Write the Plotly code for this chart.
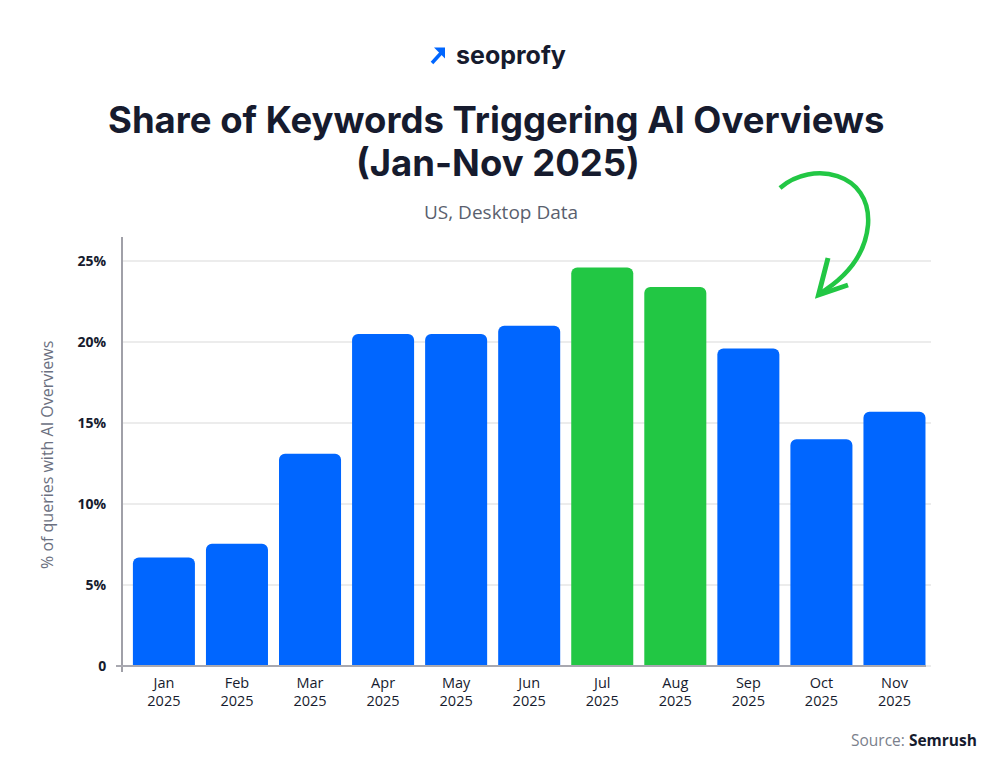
import plotly.graph_objects as go

months = ["Jan", "Feb", "Mar", "Apr", "May", "Jun", "Jul", "Aug", "Sep", "Oct", "Nov"]
years = ["2025"] * 11
share = [6.7, 7.55, 13.1, 20.5, 20.5, 21.0, 24.6, 23.4, 19.6, 14.0, 15.7]
highlight = [False, False, False, False, False, False, True, True, False, False, False]
y_ticks = [0, 5, 10, 15, 20, 25]
y_tick_labels = ["0", "5%", "10%", "15%", "20%", "25%"]

BLUE = "#0066FF"
GREEN = "#22C744"
DARK = "#161B2E"
GRAY = "#5A5F6E"
BODY = "Open Sans"

W, H = 1000, 768
L, R, T, B = 123, 931, 237, 672


def px(x):
    return (x - L) / (R - L)


def py(y):
    return (B - y) / (B - T)


labels = [f"{m}<br>{y}" for m, y in zip(months, years)]
colors = [GREEN if h else BLUE for h in highlight]

fig = go.Figure()
fig.add_trace(go.Bar(
    x=list(range(len(months))), y=share,
    marker=dict(color=colors, cornerradius=6, line=dict(width=0)),
    hoverinfo="skip",
))

fig.update_layout(
    width=W, height=H,
    margin=dict(l=L, r=W - R, t=T, b=H - B),
    paper_bgcolor="white", plot_bgcolor="white",
    showlegend=False,
    bargap=0.151,
    font=dict(family=BODY, color=DARK),
)
fig.update_xaxes(
    range=[-0.56, 10.5],
    tickvals=list(range(len(months))), ticktext=labels,
    tickfont=dict(size=14.5, color=DARK, family=BODY, weight=500),
    showgrid=False, zeroline=False, showline=False, ticks="",
)
fig.update_yaxes(
    range=[-0.37, 26.48],
    tickvals=y_ticks, ticktext=y_tick_labels,
    tickfont=dict(size=14, color=DARK, family=BODY, weight=700),
    ticklabelstandoff=12,
    showgrid=True, gridcolor="#ECECEC", gridwidth=1.5,
    zeroline=False,
    showline=True, linecolor="#A0A0A8", linewidth=2,
    ticks="",
)

# zero baseline
fig.add_shape(type="line", xref="paper", yref="y",
              x0=px(116), x1=px(926), y0=0, y1=0,
              line=dict(color="#A8A8B0", width=2), layer="above")

# logo
fig.add_shape(type="line", xref="paper", yref="paper",
              x0=px(432), y0=py(63), x1=px(442), y1=py(52),
              line=dict(color=BLUE, width=3.5))
fig.add_shape(type="path", xref="paper", yref="paper",
              path=f"M {px(434)} {py(47.5)} L {px(445)} {py(47.5)} L {px(445)} {py(58.5)} Z",
              fillcolor=BLUE, line=dict(color=BLUE, width=0))
fig.add_annotation(text="<b>seoprofy</b>", xref="paper", yref="paper",
                   x=px(511), y=py(55), showarrow=False,
                   font=dict(size=25, color=DARK, family="Inter"),
                   xanchor="center", yanchor="middle")

# titles
fig.add_annotation(text="Share of Keywords Triggering AI Overviews",
                   xref="paper", yref="paper", x=px(496), y=py(120),
                   showarrow=False, xanchor="center", yanchor="middle",
                   font=dict(size=36.5, color=DARK, family="Inter", weight=700))
fig.add_annotation(text="(Jan-Nov 2025)",
                   xref="paper", yref="paper", x=px(498), y=py(163),
                   showarrow=False, xanchor="center", yanchor="middle",
                   font=dict(size=36.5, color=DARK, family="Inter", weight=700))
fig.add_annotation(text="US, Desktop Data",
                   xref="paper", yref="paper", x=px(501), y=py(212),
                   showarrow=False, xanchor="center", yanchor="middle",
                   font=dict(size=19, color=GRAY, family=BODY))

# y axis title
fig.add_annotation(text="% of queries with AI Overviews",
                   xref="paper", yref="paper", x=px(47), y=py(455),
                   showarrow=False, textangle=-90,
                   xanchor="center", yanchor="middle",
                   font=dict(size=16, color="#6B7080", family=BODY))

# source
fig.add_annotation(
    text="<span style='color:#7B7F8C'>Source: </span><b>Semrush</b>",
    xref="paper", yref="paper", x=px(979), y=py(740),
    showarrow=False, xanchor="right", yanchor="middle",
    font=dict(size=15.5, color=DARK, family=BODY))

# green curved arrow
fig.add_shape(type="path", xref="paper", yref="paper",
              path=(f"M {px(780)} {py(188)} "
                    f"C {px(812)} {py(160)}, {px(872)} {py(172)}, {px(868)} {py(225)} "
                    f"C {px(865)} {py(258)}, {px(842)} {py(280)}, {px(819)} {py(294)}"),
              line=dict(color=GREEN, width=4.5))
fig.add_shape(type="path", xref="paper", yref="paper",
              path=(f"M {px(828)} {py(258)} L {px(818.5)} {py(295)} "
                    f"L {px(848)} {py(285)}"),
              line=dict(color=GREEN, width=5))

fig.write_html("out.html")
